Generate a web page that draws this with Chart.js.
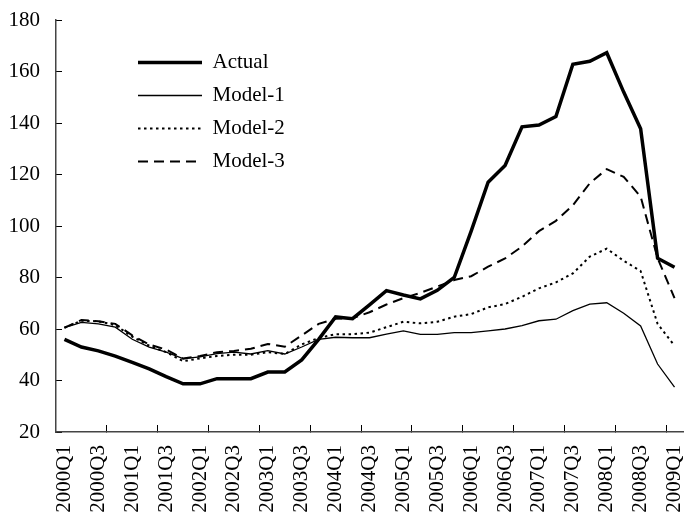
<!DOCTYPE html>
<html>
<head>
<meta charset="utf-8">
<script src="https://cdn.jsdelivr.net/npm/chart.js@4"></script>
<style>
  body { margin: 0; background: #fff; }
  #wrap { width: 684px; height: 515px; }
</style>
</head>
<body>
<div id="wrap"><canvas id="chart" width="684" height="515"></canvas></div>
<script>
const quarters = [
  '2000Q1', '2000Q2', '2000Q3', '2000Q4', '2001Q1', '2001Q2', '2001Q3', '2001Q4',
  '2002Q1', '2002Q2', '2002Q3', '2002Q4', '2003Q1', '2003Q2', '2003Q3', '2003Q4',
  '2004Q1', '2004Q2', '2004Q3', '2004Q4', '2005Q1', '2005Q2', '2005Q3', '2005Q4',
  '2006Q1', '2006Q2', '2006Q3', '2006Q4', '2007Q1', '2007Q2', '2007Q3', '2007Q4',
  '2008Q1', '2008Q2', '2008Q3', '2008Q4', '2009Q1'
];

const actual = [56, 53, 51.5, 49.5, 47, 44.5, 41.5, 38.7, 38.7, 40.7, 40.7, 40.7, 43.3, 43.3, 48, 56,
  64.7, 64, 69.4, 74.9, 73.2, 71.7, 75, 80, 98, 117, 123.5, 138.5, 139.2, 142.5, 162.8, 164,
  167.3, 152, 137.8, 87.5, 84];

const model1 = [60.5, 62.6, 62, 60.7, 56, 53, 51, 48.5, 49.2, 50.4, 51, 50.3, 51.6, 50.3, 53, 56,
  56.8, 56.6, 56.6, 58, 59.3, 57.9, 57.9, 58.6, 58.6, 59.3, 60, 61.3, 63.2, 63.8, 67.1, 69.7,
  70.2, 66.1, 61.2, 46.4, 37.4];

const model2 = [60.5, 63.2, 63, 61.5, 57, 53.5, 51, 47.5, 48.6, 49.5, 50, 50, 51, 50.3, 54, 56.5,
  58, 58, 58.6, 60.7, 62.8, 62.2, 62.8, 64.8, 65.8, 68.4, 69.7, 72.5, 75.8, 78.1, 81.6, 88.1,
  91.2, 86.5, 82.5, 62, 53.5];

const model3 = [60.5, 63.5, 63, 62, 57.5, 54, 52, 48.5, 49.5, 51, 51.5, 52.3, 54.2, 53.1, 57.5, 62,
  64, 64.2, 66.5, 69.5, 72, 74, 76.5, 79, 80.5, 84.2, 87.4, 92, 98, 102, 108, 116.6,
  122.1, 119.1, 111.4, 87.5, 72];

const yTicks = [20, 40, 60, 80, 100, 120, 140, 160, 180];

const serif = { family: '"Liberation Serif", "Times New Roman", serif', size: 21 };

// legend sits inside the plot, shifted to the right of the y axis
const legendShift = {
  id: 'legendShift',
  afterLayout(chart) {
    const lg = chart.legend;
    if (!lg) return;
    lg.left = chart.chartArea.left + 70;
    lg.top = chart.chartArea.top + 20;
  }
};

const data = {
  labels: quarters,
  datasets: [
    { label: 'Actual', data: actual, borderColor: '#000', backgroundColor: '#000', borderWidth: 3.5 },
    { label: 'Model-1', data: model1, borderColor: '#000', backgroundColor: '#000', borderWidth: 1.3 },
    { label: 'Model-2', data: model2, borderColor: '#000', backgroundColor: '#000', borderWidth: 2, borderDash: [2.5, 3.5] },
    { label: 'Model-3', data: model3, borderColor: '#000', backgroundColor: '#000', borderWidth: 2, borderDash: [10, 6] }
  ]
};

const config = {
  type: 'line',
  data: data,
  options: {
    responsive: false,
    animation: false,
    layout: { padding: { left: 0, top: 20, right: 1, bottom: 0 } },
    elements: {
      point: { radius: 0 },
      line: { tension: 0 }
    },
    plugins: {
      tooltip: { enabled: false },
      legend: {
        position: 'chartArea',
        align: 'start',
        labels: {
          usePointStyle: true,
          pointStyle: 'line',
          pointStyleWidth: 64,
          padding: 12,
          color: '#000',
          font: serif,
          generateLabels: (chart) => chart.data.datasets.map((ds, i) => ({
            text: ds.label,
            strokeStyle: '#000',
            fillStyle: '#000',
            fontColor: '#000',
            lineWidth: ds.borderWidth,
            lineDash: ds.borderDash || [],
            pointStyle: 'line',
            hidden: false,
            datasetIndex: i
          }))
        }
      }
    },
    scales: {
      x: {
        offset: true,
        grid: {
          offset: true,
          drawOnChartArea: false,
          tickLength: -7,
          tickWidth: 1,
          tickColor: (ctx) => (ctx.index !== undefined && ctx.index % 3 === 0) ? '#000' : 'rgba(0,0,0,0)'
        },
        border: { color: '#444', width: 1.5 },
        ticks: {
          autoSkip: false,
          minRotation: 90,
          maxRotation: 90,
          padding: 20,
          color: '#000',
          font: serif,
          callback: (v, i) => (i % 2 === 0 ? quarters[i] : '')
        },
        afterFit: (scale) => {
          scale.paddingLeft = 0;
          scale.paddingRight = 0;
          scale.height = 83;
        }
      },
      y: {
        min: yTicks[0],
        max: yTicks[yTicks.length - 1],
        afterBuildTicks: (scale) => { scale.ticks = yTicks.map(v => ({ value: v })); },
        grid: {
          drawOnChartArea: false,
          tickLength: -6,
          tickColor: '#000'
        },
        border: { color: '#444', width: 1.5 },
        ticks: { padding: 22, color: '#000', font: serif },
        afterFit: (scale) => {
          scale.paddingTop = 0;
          scale.paddingBottom = 0;
          scale.width = 56;
        }
      }
    }
  },
  plugins: [legendShift]
};

const chart = new Chart(document.getElementById('chart'), config);
</script>
</body>
</html>
